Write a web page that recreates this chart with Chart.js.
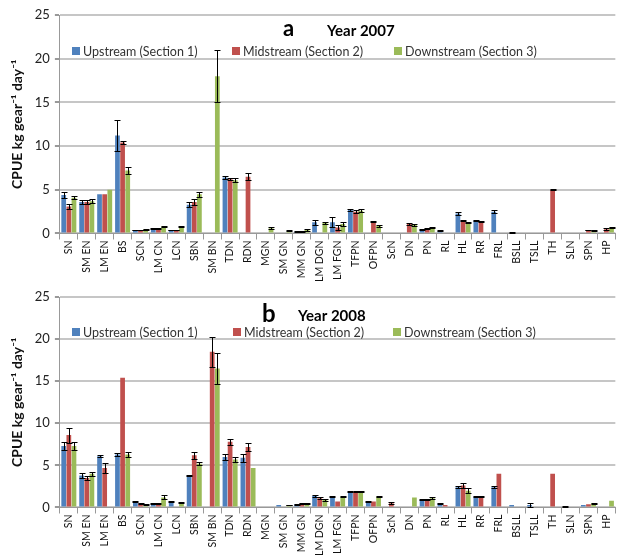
<!DOCTYPE html>
<html>
<head>
<meta charset="utf-8">
<script src="https://cdn.jsdelivr.net/npm/chart.js@4.4.1/dist/chart.umd.min.js"></script>
<style>
  body { margin: 0; background: #fff; }
  .panel { position: absolute; left: 0; width: 620px; }
  #wrapA { top: 0; height: 283px; }
  #wrapB { top: 282px; height: 275px; }
</style>
</head>
<body>
<div class="panel" id="wrapA"><canvas id="chartA"></canvas></div>
<div class="panel" id="wrapB"><canvas id="chartB"></canvas></div>
<script>
const categories = ['SN', 'SM EN', 'LM EN', 'BS', 'SCN', 'LM CN', 'LCN', 'SBN', 'SM BN', 'TDN', 'RDN',
  'MGN', 'SM GN', 'MM GN', 'LM DGN', 'LM FGN', 'TFPN', 'OFPN', 'ScN', 'DN', 'PN', 'RL', 'HL', 'RR',
  'FRL', 'BSLL', 'TSLL', 'TH', 'SLN', 'SPN', 'HP'];
const seriesNames = ['Upstream (Section 1)', 'Midstream (Section 2)', 'Downstream (Section 3)'];
const yTicks = [0, 5, 10, 15, 20, 25];

// Year 2007
const up2007 = [4.4, 3.6, 4.5, 11.2, 0.4, 0.6, 0.4, 3.3, 0, 6.4, 0, 0, 0, 0.2, 1.3, 1.3, 2.7, 0, 0, 0, 0.5, 0.3, 2.3, 1.5, 2.5, 0.1, 0, 0, 0, 0, 0];
const up2007Err = [0.3, 0.2, 0, 1.8, 0.05, 0.05, 0.05, 0.3, 0, 0.2, 0, 0, 0, 0.05, 0.3, 0.6, 0.1, 0, 0, 0, 0.05, 0.05, 0.15, 0.05, 0.15, 0.05, 0, 0, 0, 0, 0];
const mid2007 = [3.1, 3.6, 4.5, 10.4, 0.4, 0.6, 0.4, 3.6, 0, 6.2, 6.5, 0, 0, 0.2, 0, 0.7, 2.5, 1.4, 0, 1.1, 0.6, 0, 1.5, 1.4, 0, 0, 0, 5.0, 0, 0.4, 0.5];
const mid2007Err = [0.3, 0.2, 0, 0.15, 0.05, 0.05, 0.05, 0.35, 0, 0.1, 0.4, 0, 0, 0.05, 0, 0.3, 0.15, 0.05, 0, 0.1, 0.05, 0, 0.1, 0.05, 0, 0, 0, 0.05, 0, 0.05, 0.1];
const down2007 = [4.1, 3.7, 5.0, 7.2, 0.5, 0.8, 0.8, 4.5, 18.0, 6.1, 0, 0.6, 0.3, 0.4, 1.2, 1.1, 2.6, 0.9, 0, 1.0, 0.7, 0, 1.3, 0, 0, 0, 0, 0, 0, 0.3, 0.7];
const down2007Err = [0.2, 0.2, 0, 0.4, 0.05, 0.1, 0.1, 0.3, 3.0, 0.2, 0, 0.1, 0.05, 0.1, 0.1, 0.2, 0.15, 0.1, 0, 0.1, 0.05, 0, 0.05, 0, 0, 0, 0, 0, 0, 0.05, 0.1];

// Year 2008
const up2008 = [7.3, 3.8, 6.1, 6.3, 0.7, 0.5, 0.7, 3.8, 0, 6.0, 5.9, 0, 0.3, 0.4, 1.4, 1.3, 1.9, 0.7, 0, 0, 0.9, 0.5, 2.4, 1.3, 2.4, 0.3, 0.3, 0, 0.1, 0.3, 0];
const up2008Err = [0.5, 0.25, 0.1, 0.15, 0.05, 0.05, 0.05, 0.1, 0, 0.3, 0.5, 0, 0, 0.05, 0.1, 0.1, 0.05, 0.05, 0, 0, 0.05, 0.05, 0.1, 0.1, 0.1, 0, 0.2, 0, 0.05, 0, 0];
const mid2008 = [8.6, 3.5, 4.7, 15.4, 0.5, 0.5, 0, 6.2, 18.5, 7.8, 7.2, 0, 0, 0.5, 1.1, 0.7, 1.9, 0.7, 0.5, 0, 0.9, 0.3, 2.6, 1.3, 4.0, 0, 0, 4.0, 0, 0.4, 0];
const mid2008Err = [0.9, 0.2, 0.55, 0, 0.05, 0.05, 0, 0.4, 1.8, 0.35, 0.45, 0, 0, 0.05, 0.1, 0, 0.05, 0, 0.1, 0, 0.05, 0, 0.3, 0.1, 0, 0, 0, 0, 0, 0, 0];
const down2008 = [7.3, 4.0, 0, 6.3, 0.4, 1.2, 0.6, 5.2, 16.5, 5.7, 4.7, 0, 0.3, 0.5, 0.9, 1.3, 1.9, 1.3, 0, 1.2, 1.1, 0, 2.0, 0, 0, 0, 0, 0, 0, 0.5, 0.8];
const down2008Err = [0.45, 0.25, 0, 0.35, 0.05, 0.25, 0.05, 0.15, 1.8, 0.3, 0, 0, 0.05, 0.05, 0.1, 0.1, 0.05, 0.1, 0, 0, 0.1, 0, 0.3, 0, 0, 0, 0, 0, 0, 0.05, 0];

const colors = ['#4f81bd', '#c0504d', '#9bbb59'];
const FONT = 'Lato, "Liberation Sans", sans-serif';

// error bars drawn with the chart's own scale
const errorBars = {
  id: 'errorBars',
  afterDatasetsDraw(chart) {
    const { ctx, scales: { y } } = chart;
    ctx.save();
    ctx.strokeStyle = '#000';
    ctx.lineWidth = 1;
    chart.data.datasets.forEach((ds, i) => {
      chart.getDatasetMeta(i).data.forEach((bar, j) => {
        const err = ds.errors[j];
        if (!err) return;
        const v = ds.data[j];
        const top = Math.round(y.getPixelForValue(v + err)) + 0.5;
        const bot = Math.round(y.getPixelForValue(Math.max(v - err, 0))) + 0.5;
        const x = Math.round(bar.x) + 0.5;
        ctx.beginPath();
        ctx.moveTo(x, top); ctx.lineTo(x, bot);
        ctx.moveTo(x - 3, top); ctx.lineTo(x + 3, top);
        ctx.moveTo(x - 3, bot); ctx.lineTo(x + 3, bot);
        ctx.stroke();
      });
    });
    ctx.restore();
  }
};

// panel letter, year and legend inside the plot area
const panelHeader = {
  id: 'panelHeader',
  afterDraw(chart, args, opts) {
    const { ctx, chartArea } = chart;
    ctx.save();
    ctx.fillStyle = '#000';
    ctx.textBaseline = 'middle';
    ctx.font = `bold ${opts.letterSize}px ${FONT}`;
    ctx.fillText(opts.letter, opts.letterX, chartArea.top + opts.letterDy);
    ctx.font = `bold 15px ${FONT}`;
    ctx.fillText(opts.year, opts.yearX, chartArea.top + opts.yearDy);
    ctx.font = `12.5px ${FONT}`;
    chart.data.datasets.forEach((ds, i) => {
      const x = opts.legendX[i];
      const ly = chartArea.top + opts.legendDy;
      ctx.fillStyle = ds.backgroundColor;
      ctx.fillRect(x, ly - 4, 8, 8);
      ctx.fillStyle = '#333';
      ctx.fillText(ds.label, x + 11, ly + 1);
    });
    ctx.restore();
  }
};

const makeDatasets = (vals, errs) => vals.map((v, i) => ({
  label: seriesNames[i],
  data: v,
  errors: errs[i],
  backgroundColor: colors[i],
  categoryPercentage: 0.86,
  barPercentage: 0.92
}));

const makeChart = (id, vals, errs, header) => new Chart(document.getElementById(id), {
  type: 'bar',
  data: { labels: categories, datasets: makeDatasets(vals, errs) },
  options: {
    responsive: true,
    maintainAspectRatio: false,
    animation: false,
    layout: { padding: { top: header.padTop, right: 1, left: 9, bottom: header.padBottom } },
    plugins: {
      legend: { display: false },
      tooltip: { enabled: false },
      panelHeader: header
    },
    scales: {
      x: {
        grid: { drawOnChartArea: false, drawTicks: true, tickLength: 6, color: '#999', offset: true },
        border: { display: true, color: '#999', width: 1 },
        ticks: {
          autoSkip: false, maxRotation: 90, minRotation: 90, padding: 1,
          color: '#111', font: { family: FONT, size: 10.5 }
        }
      },
      y: {
        min: 0, max: 25,
        afterBuildTicks: (axis) => { axis.ticks = yTicks.map(v => ({ value: v })); },
        grid: { color: '#c6c6c6', lineWidth: 2, tickLength: 5, tickColor: '#999' },
        border: { display: true, color: '#999', width: 1 },
        ticks: { color: '#222', padding: 5, font: { family: FONT, size: 13 } },
        title: {
          display: true, text: 'CPUE kg gear\u207B\u00B9 day\u207B\u00B9',
          color: '#111', padding: { top: 0, bottom: 4 },
          font: { family: FONT, size: 14, weight: 'bold' }
        }
      }
    }
  },
  plugins: [errorBars, panelHeader]
});

makeChart('chartA', [up2007, mid2007, down2007], [up2007Err, mid2007Err, down2007Err], {
  padTop: 15, padBottom: 0, letter: 'a', letterSize: 22, letterX: 283, letterDy: 14,
  year: 'Year 2007', yearX: 327, yearDy: 16, legendX: [72, 232, 394], legendDy: 36
});
makeChart('chartB', [up2008, mid2008, down2008], [up2008Err, mid2008Err, down2008Err], {
  padTop: 15, padBottom: 0, letter: 'b', letterSize: 24, letterX: 262, letterDy: 17,
  year: 'Year 2008', yearX: 298, yearDy: 19, legendX: [72, 233, 393], legendDy: 35
});
</script>
</body>
</html>
